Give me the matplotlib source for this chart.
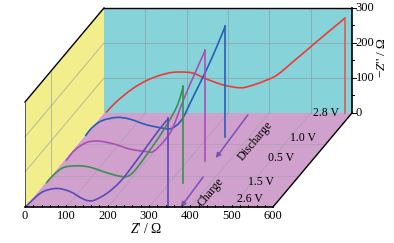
import matplotlib
matplotlib.use('Agg')
import matplotlib.pyplot as plt
from matplotlib.patches import Polygon, PathPatch
from matplotlib.path import Path
from matplotlib.transforms import Affine2D

plt.rcParams['font.family'] = ['Liberation Serif', 'DejaVu Serif']
plt.rcParams['mathtext.fontset'] = 'custom'
plt.rcParams['mathtext.rm'] = 'Liberation Serif'
plt.rcParams['mathtext.it'] = 'Liberation Serif:italic'

# Z', Z'', one pair per voltage
z_26 = [2, 20, 44, 77, 109, 137, 153, 169, 198, 230, 262, 294, 327, 347]
y_26 = [1, 22, 44, 53, 44, 25, 18, 20, 39, 72, 120, 172, 225, 253]
z_15 = [3, 21, 45, 77, 109, 150, 182, 202, 222, 254, 287, 319, 335]
y_15 = [0, 24, 45, 50, 46, 30, 20, 21, 43, 95, 152, 219, 278]
z_05 = [5, 27, 55, 83, 120, 160, 200, 216, 241, 263, 289, 317, 342]
y_05 = [0, 31, 52, 56, 48, 33, 26, 26, 54, 93, 173, 250, 316]
z_10 = [3, 18, 42, 79, 111, 151, 192, 212, 236, 264, 296, 321, 342]
y_10 = [2, 24, 45, 55, 50, 34, 24, 24, 48, 114, 191, 257, 317]
z_28 = [5, 30, 70, 111, 152, 180, 215, 248, 289, 329, 353, 385, 418, 458, 498, 539, 583]
y_28 = [1, 32, 70, 97, 113, 117, 114, 97, 80, 72, 77, 90, 108, 147, 187, 228, 271]

depths = [1.0, 0.748, 0.4926, 0.252, 0.0]
labels = ['2.8 V', '1.0 V', '0.5 V', '1.5 V', '2.6 V']
label_z = [537, 530, 525, 523, 544]
label_y = [0, -4, 8, 4, 23]
colors = ['#ee3a36', '#2b5cb8', '#a94fb4', '#3c8f50', '#5a4bb8']
drop_colors = ['#e25a50', '#2b5cb8', '#a94fb4', '#3c8f50', '#5a4bb8']
curves = [(z_28, y_28), (z_10, y_10), (z_05, y_05), (z_15, y_15), (z_26, y_26)]

x_ticks = [0, 100, 200, 300, 400, 500, 600]
y_ticks = [0, 100, 200, 300]

DX = 191.0   # depth shift of the back wall, in Z' units
DY = 268.6   # in Z'' units

fig = plt.figure(figsize=(3.94, 2.43), dpi=100)
ax = fig.add_axes([0, 0, 1, 1])
ax.set_xlim(-60.5, 892.6)
ax.set_ylim(-102.9, 591.4)
ax.axis('off')


def at(d):
    return Affine2D().translate(d * DX, d * DY) + ax.transData


def pt(z, y, d):
    return (z + d * DX, y + d * DY)


def smooth_path(z, y):
    # bezier segments through the read points, so the line has no corners
    p = list(zip(z, y))
    verts = [p[0]]
    codes = [Path.MOVETO]
    for i in range(len(p) - 1):
        a = p[max(i - 1, 0)]
        b = p[i]
        c = p[i + 1]
        e = p[min(i + 2, len(p) - 1)]
        verts.append((b[0] + (c[0] - a[0]) / 6, b[1] + (c[1] - a[1]) / 6))
        verts.append((c[0] - (e[0] - b[0]) / 6, c[1] - (e[1] - b[1]) / 6))
        verts.append(c)
        codes += [Path.CURVE4, Path.CURVE4, Path.CURVE4]
    return Path(verts, codes)


grid = '#8a9a9f'
# walls and floor
ax.add_patch(Polygon([pt(0, 0, 0), pt(600, 0, 0), pt(600, 0, 1), pt(0, 0, 1)], fc='#cfa1cc', ec='none', zorder=1))
ax.add_patch(Polygon([pt(0, 0, 1), pt(600, 0, 1), pt(600, 300, 1), pt(0, 300, 1)], fc='#86d3da', ec='none', zorder=1))
ax.add_patch(Polygon([pt(0, 0, 0), pt(0, 0, 1), pt(0, 300, 1), pt(0, 300, 0)], fc='#f2ee8c', ec='none', zorder=1))

# grid
for v in x_ticks[1:-1]:
    ax.plot([v, v], [0, 300], color=grid, lw=0.7, alpha=0.6, transform=at(1), zorder=2)
    ax.plot(*zip(pt(v, 0, 0), pt(v, 0, 1)), color=grid, lw=0.7, alpha=0.35, zorder=2)
for v in y_ticks[1:-1]:
    ax.plot([0, 600], [v, v], color=grid, lw=0.7, alpha=0.6, transform=at(1), zorder=2)
    ax.plot(*zip(pt(0, v, 0), pt(0, v, 1)), color=grid, lw=0.7, alpha=0.6, zorder=2)
for d in [1 / 3, 2 / 3]:
    ax.plot([0, 600], [0, 0], color=grid, lw=0.7, alpha=0.35, transform=at(d), zorder=2)
ax.plot([0, 0], [0, 300], color=grid, lw=0.7, alpha=0.6, transform=at(1 / 3), zorder=2)

# frame
ax.plot([0, 600], [300, 300], color='k', lw=1.0, transform=at(1), zorder=6)
ax.plot([600, 600], [0, 300], color='k', lw=1.2, transform=at(1), zorder=6)
ax.plot(*zip(pt(0, 300, 0), pt(0, 300, 1)), color='k', lw=1.0, zorder=6)
ax.plot([0, 0], [0, 300], color='#555555', lw=0.7, zorder=6)
ax.plot([0, 600], [0, 0], color='k', lw=1.2, zorder=6)
ax.plot(*zip(pt(600, 0, 0), pt(600, 0, 1)), color='k', lw=1.0, zorder=6)

# ticks
for v in range(0, 601, 20):
    ax.plot([v, v], [0, 7 if v % 100 == 0 else 5], color='k', lw=0.6, zorder=6)
for v in range(0, 301, 50):
    ax.plot([600, 600 + (9 if v % 100 == 0 else 6)], [v, v], color='k', lw=0.7, transform=at(1), zorder=6)

for v in x_ticks:
    ax.text(v, -25, str(v), fontsize=9, ha='center', va='center')
for v in y_ticks:
    ax.text(609, v, str(v), fontsize=9, ha='left', va='center', transform=at(1))

ax.text(146 * 2.419 - 60.5, -63, r"$\mathit{Z}$' / Ω", fontsize=9.8, ha='center', va='center')
ax.text(382 * 2.419 - 60.5, 428, r"$-\mathit{Z}$'' / Ω", fontsize=9.5, ha='center', va='center', rotation=90)

# spectra, back to front, each with its drop line
for (z, y), d, c, dc in zip(curves, depths, colors, drop_colors):
    ax.add_patch(PathPatch(smooth_path(z, y), fc='none', ec=c, lw=1.2, transform=at(d), zorder=4))
    ax.plot([z[-1], z[-1]], [0, y[-1]], color=dc, lw=1.2, transform=at(d), zorder=4)

for lab, z, y, d in zip(labels, label_z, label_y, depths):
    ax.text(z, y, lab, fontsize=8.5, ha='center', va='center', transform=at(d), zorder=5)

# direction arrows
ax.annotate('', xy=pt(362, 0, 0.521), xytext=pt(352, 0, 0.979),
            arrowprops=dict(arrowstyle='-|>', color='#7a4fb8', lw=1.1, mutation_scale=7, shrinkA=0, shrinkB=0), zorder=5)
ax.annotate('', xy=pt(377, 0, 0), xytext=pt(370, 0, 0.319),
            arrowprops=dict(arrowstyle='-|>', color='#7a4fb8', lw=1.1, mutation_scale=7, shrinkA=0, shrinkB=0), zorder=5)
ax.text(*pt(422, 0, 0.702), 'Discharge', fontsize=8.5, rotation=50, ha='center', va='center', zorder=5)
ax.text(*pt(419, 0, 0.16), 'Charge', fontsize=8.5, rotation=50, ha='center', va='center', zorder=5)

fig.savefig('out.png', dpi=100)
